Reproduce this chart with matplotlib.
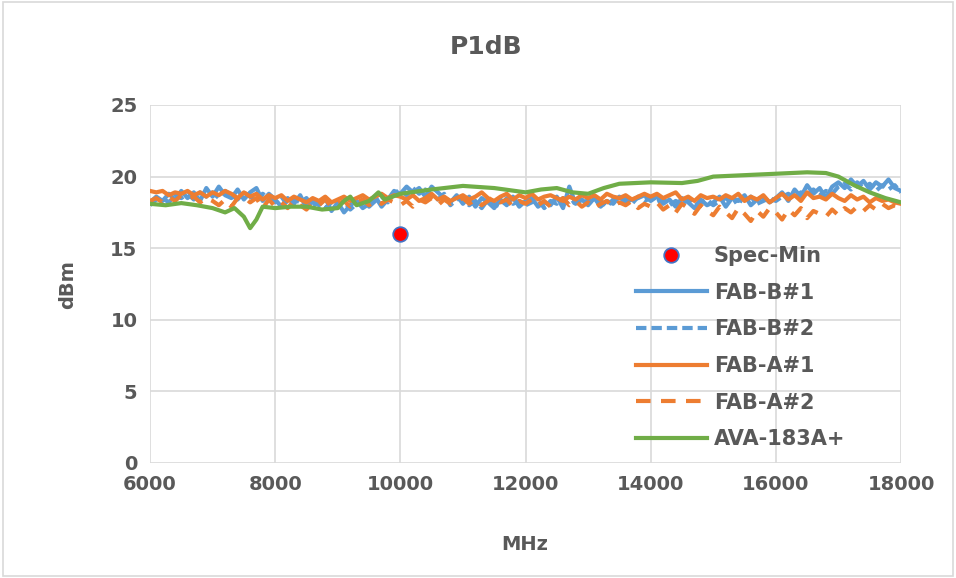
import numpy as np
import matplotlib.pyplot as plt
from matplotlib.patches import Rectangle

# sweep 6000..18000 MHz, 100 MHz step
freq = np.arange(6000, 18001, 100)

fab_b1 = [18.2, 18.6, 18.3, 18.8, 18.4, 19.0, 18.5, 18.9, 18.3, 19.2,
          18.6, 19.3, 18.7, 18.5, 19.1, 18.4, 18.9, 19.2, 18.3, 18.8,
          18.4, 17.9, 18.5, 18.1, 18.7, 17.8, 18.3, 18.0, 18.5, 17.6,
          18.2, 17.5, 18.0, 18.3, 17.8, 18.1, 18.6, 17.9, 18.4, 19.0,
          18.8, 19.3, 18.9, 19.2, 18.6, 19.3, 18.9, 18.5, 18.2, 18.7,
          18.1, 18.6, 17.9, 18.5, 18.2, 17.8, 18.4, 18.0, 18.6, 17.9,
          18.3, 18.5, 17.9, 18.2, 18.0, 18.6, 17.8, 19.3, 18.1, 18.4,
          18.0, 18.5, 17.9, 18.3, 18.1, 18.6, 18.2, 18.4, 18.5, 18.7,
          18.3, 18.6, 18.1, 18.4, 17.9, 18.5, 18.2, 17.8, 18.4, 18.0,
          18.2, 18.6, 17.9, 18.5, 18.3, 18.7, 18.0, 18.4, 18.6, 18.2,
          18.5, 18.9, 18.3, 19.1, 18.6, 19.4, 18.8, 19.2, 18.5, 19.3,
          19.6, 19.2, 19.8, 19.3, 19.7, 19.1, 19.6, 19.3, 19.8, 19.2,
          19.0]

fab_b2 = [18.0, 18.4, 18.5, 18.2, 18.7, 18.5, 18.8, 18.4, 18.9, 18.6,
          18.9, 18.5, 19.0, 18.7, 18.4, 18.9, 18.6, 18.3, 18.8, 18.5,
          18.2, 18.6, 18.0, 18.4, 18.2, 18.5, 17.9, 18.3, 17.8, 18.2,
          17.9, 18.3, 17.7, 18.1, 18.4, 17.9, 18.3, 18.6, 18.2, 18.8,
          19.1, 18.7, 19.2, 18.8, 19.1, 18.7, 18.4, 18.8, 18.0, 18.4,
          18.5, 18.0, 18.3, 17.8, 18.4, 18.1, 17.9, 18.5, 18.1, 18.3,
          18.0, 18.2, 18.4, 17.8, 18.3, 18.1, 18.5, 18.0, 18.3, 18.0,
          18.4, 18.1, 18.3, 17.9, 18.4, 18.2, 18.5, 18.1, 18.6, 18.3,
          18.5, 18.2, 18.4, 18.0, 18.3, 18.1, 18.4, 18.0, 18.2, 18.4,
          18.0, 18.3, 18.5, 18.1, 18.4, 18.2, 18.6, 18.1, 18.3, 18.5,
          18.3, 18.6, 18.8, 18.4, 18.9, 18.6, 19.1, 18.7, 19.0, 18.8,
          19.3, 19.5, 19.1, 19.6, 19.2, 19.5, 19.0, 19.4, 19.1, 19.4,
          18.9]

fab_a1 = [19.0, 18.9, 19.0, 18.7, 18.9, 18.8, 19.0, 18.7, 18.9, 18.6,
          18.9, 18.7, 19.0, 18.8, 18.5, 18.9, 18.6, 18.8, 18.4, 18.7,
          18.5, 18.7, 18.3, 18.6, 18.4, 18.2, 18.5, 18.3, 18.6, 18.2,
          18.4, 18.6, 18.3, 18.5, 18.7, 18.4, 18.6, 18.8, 18.5, 18.7,
          18.6, 18.4, 18.7, 18.3, 18.5, 18.8, 18.4, 18.6, 18.3, 18.5,
          18.7, 18.4, 18.6, 18.9, 18.5, 18.3, 18.6, 18.8, 18.4, 18.7,
          18.5, 18.8, 18.4, 18.6, 18.7, 18.5, 18.3, 18.6, 18.4, 18.7,
          18.5, 18.7, 18.4, 18.8, 18.6, 18.5, 18.7, 18.4, 18.6, 18.8,
          18.6, 18.8, 18.5, 18.7, 18.9, 18.4, 18.6, 18.3, 18.7, 18.5,
          18.6, 18.4, 18.7, 18.5, 18.8, 18.3, 18.6, 18.4, 18.7, 18.2,
          18.5, 18.8, 18.4, 18.7, 18.3, 18.9, 18.5, 18.6, 18.4, 18.8,
          18.5, 18.3, 18.7, 18.4, 18.6, 18.2, 18.5, 18.3, 18.4, 18.2,
          18.1]

fab_a2 = [18.3, 18.5, 18.2, 18.6, 18.3, 18.7, 18.4, 18.6, 18.2, 18.5,
          18.3, 18.0, 18.4, 17.9, 18.5, 18.6, 18.2, 18.5, 17.8, 18.4,
          17.9, 18.2, 17.8, 18.3, 18.0, 17.7, 18.2, 18.0, 18.4, 17.9,
          18.1, 18.3, 17.9, 18.2, 18.4, 18.0, 18.3, 18.1, 18.4, 18.2,
          18.0, 18.3, 17.9, 18.4, 18.2, 18.5, 18.0, 18.4, 18.1, 18.3,
          18.5, 18.1, 18.4, 18.0, 18.3, 18.6, 18.2, 18.4, 17.9, 18.3,
          18.1, 18.4, 18.0, 18.3, 17.9, 18.2, 18.5, 18.0, 18.3, 17.9,
          18.2, 17.8, 18.1, 18.3, 17.9, 18.2, 18.0, 18.3, 17.8, 18.1,
          17.9, 18.2, 17.7, 18.0, 17.5, 18.1, 17.8, 17.4, 18.0, 17.6,
          17.3, 17.9, 17.5, 17.1, 17.8, 17.4, 16.9, 17.6, 17.2, 17.8,
          17.5, 17.0, 17.7, 17.3, 17.8, 17.1, 17.6, 17.4, 17.2, 17.7,
          17.3, 17.8, 17.5, 17.9, 17.6, 18.0, 17.7, 18.1, 17.8, 18.0,
          17.9]

ava_freq = [6000, 6250, 6500, 6750, 7000, 7200, 7350, 7500, 7600, 7700,
            7800, 8000, 8250, 8500, 8750, 9000, 9100, 9200, 9300, 9500,
            9650, 9750, 10000, 10500, 11000, 11500, 12000, 12250, 12500, 12750,
            13000, 13250, 13500, 14000, 14500, 14750, 15000, 15500, 16000, 16500,
            16800, 17000, 17250, 17500, 17750, 18000]
ava_p1db = [18.1, 18.0, 18.15, 18.0, 17.8, 17.5, 17.8, 17.2, 16.4, 17.0,
            17.9, 17.8, 17.9, 17.9, 17.7, 17.8, 18.3, 18.6, 18.0, 18.3,
            18.9, 18.4, 18.8, 19.1, 19.35, 19.2, 18.9, 19.1, 19.2, 18.9,
            18.8, 19.2, 19.5, 19.6, 19.55, 19.7, 20.0, 20.1, 20.2, 20.3,
            20.25, 20.0, 19.4, 18.9, 18.5, 18.2]

spec_freq = [10000]
spec_min = [16]

txt = '#595959'
blue = '#5B9BD5'
orange = '#ED7D31'
green = '#70AD47'

plt.rcParams['font.family'] = ['DejaVu Sans']
plt.rcParams['font.weight'] = 'bold'

fig = plt.figure(figsize=(9.56, 5.78), dpi=100)
ax = fig.add_axes([150/956, 1-463/578, 751/956, 358/578])

ax.plot(spec_freq, spec_min, 'o', color='red', markeredgecolor='#4472C4',
        markeredgewidth=1.3, markersize=10.5, label='Spec-Min', zorder=6)
ax.plot(freq, fab_b1, color=blue, lw=3, label='FAB-B#1', zorder=2)
ax.plot(freq, fab_b2, color=blue, lw=3, ls=(0, (2.5, 1.2)), label='FAB-B#2', zorder=2)
ax.plot(freq, fab_a1, color=orange, lw=3, label='FAB-A#1', zorder=3)
ax.plot(freq, fab_a2, color=orange, lw=3, ls=(0, (3.5, 2.5)), label='FAB-A#2', zorder=3)
ax.plot(ava_freq, ava_p1db, color=green, lw=3, label='AVA-183A+', zorder=4)

ax.set_xlim(6000, 18000)
ax.set_ylim(0, 25)
ax.set_xticks(range(6000, 18001, 2000))
ax.set_yticks(range(0, 26, 5))
ax.grid(True, color='#D9D9D9', lw=1.2)
ax.set_axisbelow(True)
for s in ax.spines.values():
    s.set_visible(False)
ax.tick_params(length=0, labelsize=14, labelcolor=txt, pad=9)

fig.text(486/956, 1-47/578, 'P1dB', ha='center', va='center',
         fontsize=18, color=txt, fontweight='bold')
fig.text(525/956, 1-545/578, 'MHz', ha='center', va='center',
         fontsize=14, color=txt, fontweight='bold')
fig.text(68/956, 1-285/578, 'dBm', ha='center', va='center', rotation=90,
         fontsize=14, color=txt, fontweight='bold')

leg = ax.legend(loc='upper left', bbox_to_anchor=((636-150)/751, 1-(246-105)/358),
                frameon=False, fontsize=15, handlelength=3.4, labelspacing=0.8,
                handletextpad=0.33, borderpad=0, borderaxespad=0)
for t in leg.get_texts():
    t.set_color(txt)

fig.patches.append(Rectangle((0.003, 0.004), 0.994, 0.992, transform=fig.transFigure,
                             fill=False, edgecolor='#D9D9D9', lw=1.2))

fig.savefig('out.png', dpi=100)
